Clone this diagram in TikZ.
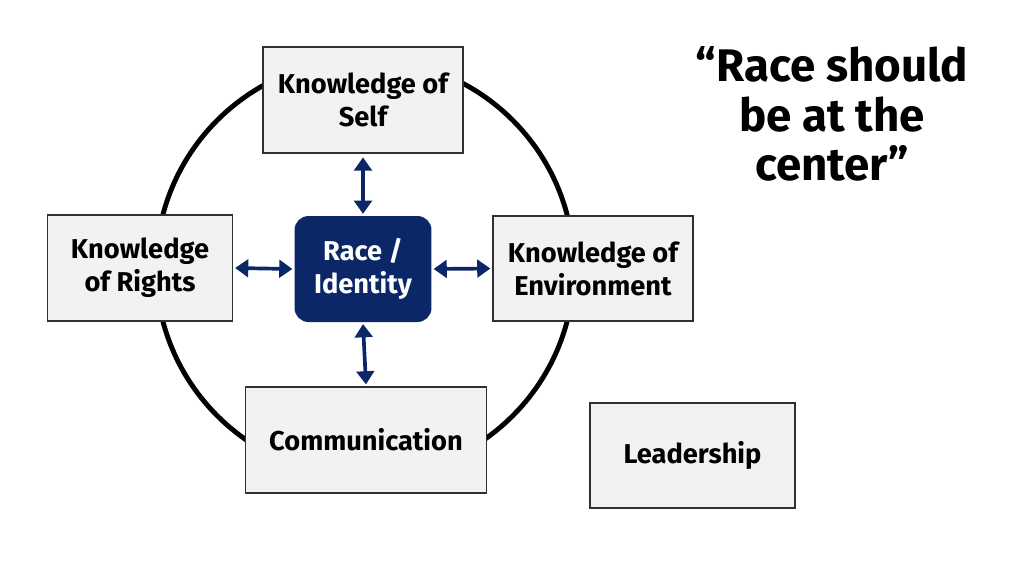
\documentclass[tikz,border=0pt]{standalone}
\usepackage{fontspec}
\setmainfont{Fira Sans}
\usetikzlibrary{arrows.meta}
\definecolor{navy}{HTML}{0B2767}
\definecolor{boxgray}{HTML}{F2F2F2}
\definecolor{boxline}{HTML}{303030}
\tikzset{
  gbox/.style={draw=boxline, line width=1pt, fill=boxgray, align=center,
    font=\fontsize{15.5}{18.7}\selectfont\bfseries, text=black, inner sep=2pt},
  racebox/.style={fill=navy, rounded corners=8pt, align=center,
    font=\fontsize{15.5}{18.7}\selectfont\bfseries, text=white, inner sep=2pt,
    minimum width=2.74cm, minimum height=2.12cm},
  link/.style={draw=navy, line width=2.1pt, {Triangle[length=7.5pt,width=10pt]}-{Triangle[length=7.5pt,width=10pt]}},
  ring/.style={draw=black, line width=2.8pt}
}
\begin{document}
\begin{tikzpicture}[x=0.02cm,y=-0.02cm]
\useasboundingbox (0,0) rectangle (1024,576);
\coordinate (c) at (365,268);
\draw[ring] (c) circle[radius=4.18cm];
\node[gbox, minimum width=4cm, minimum height=2.12cm] (self) at (363,100) {Knowledge of\\Self};
\node[gbox, minimum width=3.7cm, minimum height=2.12cm] (rights) at (140,268) {Knowledge\\of Rights};
\node[racebox] (race) at (363,269) {Race /\\Identity};
\node[gbox, minimum width=4cm, minimum height=2.1cm] (env) at (593,268.5) {Knowledge of\\Environment};
\node[gbox, minimum width=4.82cm, minimum height=2.12cm] (comm) at (366,440) {Communication};
\node[gbox, minimum width=4.1cm, minimum height=2.1cm] (lead) at (692.5,455.5) {Leadership};
\draw[link] ([yshift=-2pt]self.south) -- ([yshift=1pt]race.north);
\draw[link] ([xshift=1pt]rights.east) -- ([xshift=-1pt]race.west);
\draw[link] ([xshift=1pt]race.east) -- ([xshift=-1pt]env.west);
\draw[link] ([yshift=-1pt]race.south) -- ([yshift=1pt]comm.north);
\node[align=center, font=\fontsize{26}{28.3}\selectfont\bfseries] (title) at (832,114) {“Race should\\be at the\\center”};
\end{tikzpicture}
\end{document}
